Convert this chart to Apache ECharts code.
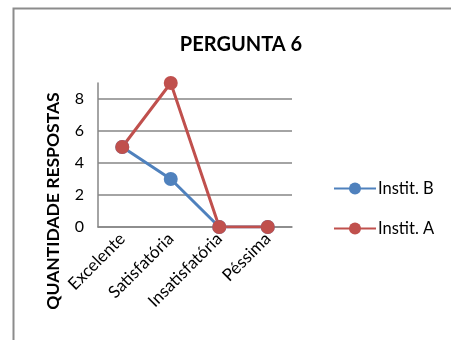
<!DOCTYPE html>
<html>
<head>
<meta charset="utf-8">
<script src="https://cdn.jsdelivr.net/npm/echarts@6/dist/echarts.min.js"></script>
<style>html,body{margin:0;padding:0;background:#fff}#chart{width:451px;height:340px}</style>
</head>
<body>
<div id="chart"></div>
<script>
const categorias = ['Excelente', 'Satisfatória', 'Insatisfatória', 'Péssima']
const institB = [5, 3, 0, 0]
const institA = [5, 9, 0, 0]
const yMax = 9

const chart = echarts.init(document.getElementById('chart'))
const font = 'Lato, "Open Sans", sans-serif'
const grey = '#868686'

chart.setOption({
  animation: false,
  backgroundColor: '#fff',
  textStyle: { fontFamily: font, color: '#000' },
  title: {
    text: 'PERGUNTA 6', left: 236, top: 30, textAlign: 'center',
    textStyle: { fontFamily: font, fontSize: 20, fontWeight: 'bold', color: '#000' }
  },
  grid: { left: 98, right: 159, top: 83, bottom: 113, containLabel: false },
  legend: {
    orient: 'vertical', left: 328, top: 175, itemGap: 23,
    itemWidth: 42, itemHeight: 15,
    data: ['Instit. B', 'Instit. A'],
    textStyle: { fontFamily: font, fontSize: 16.5, color: '#000', padding: [0, 0, 0, -3] }
  },
  xAxis: {
    type: 'category', data: categorias, boundaryGap: true,
    axisLine: { lineStyle: { color: grey, width: 1.5 } },
    axisTick: { show: false },
    axisLabel: { rotate: 45, fontFamily: font, fontSize: 17, color: '#000', margin: 9, interval: 0 }
  },
  yAxis: {
    type: 'value', min: 0, max: yMax, interval: 2,
    axisLine: { show: true, lineStyle: { color: grey, width: 1.5 } },
    axisTick: { show: false },
    axisLabel: { fontFamily: font, fontSize: 16, color: '#000', margin: 14, showMaxLabel: false },
    splitLine: { show: true, showMaxLine: false, lineStyle: { color: grey, width: 1.5 } }
  },
  graphic: [
    {
      type: 'rect', left: 11, top: 6, silent: true,
      shape: { width: 460, height: 360 },
      style: { fill: 'none', stroke: '#8c8c8c', lineWidth: 2 }
    },
    {
      type: 'text', x: 53, y: 201, rotation: Math.PI / 2,
      style: {
        text: 'QUANTIDADE RESPOSTAS', fill: '#000',
        font: 'bold 17.5px ' + font, textAlign: 'center', textVerticalAlign: 'middle'
      }
    }
  ],
  series: [
    {
      name: 'Instit. B', type: 'line', data: institB,
      symbol: 'circle', symbolSize: 14,
      lineStyle: { color: '#4F81BD', width: 3 }, itemStyle: { color: '#4F81BD' }
    },
    {
      name: 'Instit. A', type: 'line', data: institA,
      symbol: 'circle', symbolSize: 14,
      lineStyle: { color: '#C0504D', width: 3 }, itemStyle: { color: '#C0504D' }
    }
  ]
})
</script>
</body>
</html>
